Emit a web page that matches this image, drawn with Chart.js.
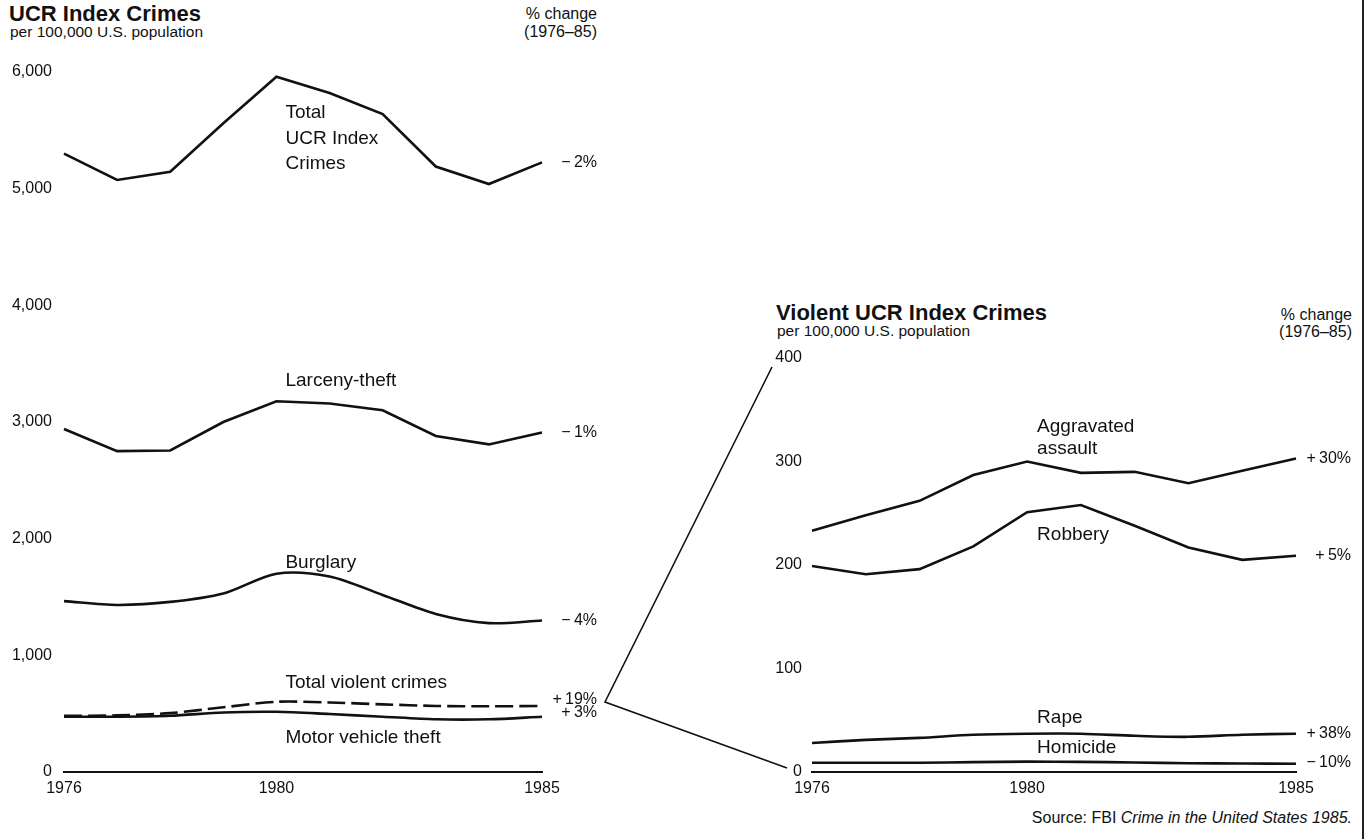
<!DOCTYPE html>
<html>
<head>
<meta charset="utf-8">
<script src="https://cdn.jsdelivr.net/npm/chart.js@4.4.1/dist/chart.umd.min.js"></script>
<style>
  body { margin: 0; background: #fff; width: 1366px; height: 839px; overflow: hidden; position: relative;
         font-family: "Liberation Sans", Arial, sans-serif; color: #111; }
  .txt { position: absolute; white-space: nowrap; }
  .title { font-weight: bold; font-size: 22px; line-height: 22px; }
  .sub { font-size: 15.5px; line-height: 18px; }
  .pc { font-size: 16px; line-height: 18px; }
  .r { text-align: right; }
  canvas { position: absolute; top: 0; }
</style>
</head>
<body>
<div class="txt title" style="left:9px;top:3px">UCR Index Crimes</div>
<div class="txt sub" style="left:10px;top:23px">per 100,000 U.S. population</div>
<div class="txt pc r" style="right:769px;top:5px">% change</div>
<div class="txt pc r" style="right:769px;top:23px">(1976–85)</div>

<div class="txt title" style="left:776px;top:302px">Violent UCR Index Crimes</div>
<div class="txt sub" style="left:777px;top:322px">per 100,000 U.S. population</div>
<div class="txt pc r" style="right:14px;top:306px">% change</div>
<div class="txt pc r" style="right:14px;top:323px">(1976–85)</div>

<div class="txt pc r" style="right:14px;top:809px">Source: FBI <i>Crime in the United States 1985.</i></div>

<canvas id="leftChart" width="610" height="800" style="left:0"></canvas>
<canvas id="rightChart" width="626" height="800" style="left:740px"></canvas>
<canvas id="links" width="1366" height="839" style="left:0;pointer-events:none"></canvas>
<div style="position:absolute;left:1362px;top:0;width:2px;height:839px;background:#222"></div>

<script>
// years on both charts
var years = [1976, 1977, 1978, 1979, 1980, 1981, 1982, 1983, 1984, 1985];
var yearTicks = [1976, 1980, 1985];

// left chart, rates per 100,000
var totalIndex   = [5300, 5075, 5145, 5560, 5960, 5820, 5640, 5190, 5040, 5225];
var larceny      = [2940, 2750, 2756, 3000, 3178, 3158, 3100, 2880, 2808, 2910];
var burglary     = [1465, 1432, 1458, 1530, 1700, 1676, 1518, 1355, 1276, 1298];
var violentTotal = [482, 485, 505, 555, 602, 596, 580, 566, 563, 566];
var motorVehicle = [474, 474, 482, 510, 516, 497, 474, 452, 452, 474];

// right chart, violent crimes per 100,000
var aggAssault = [233, 248, 262, 287, 300, 289, 290, 279, 291, 303];
var robbery    = [199, 191, 196, 218, 251, 258, 238, 217, 205, 209];
var rape       = [28, 31, 33, 36, 37, 37, 35, 34, 36, 37];
var homicide   = [9, 9, 9, 9.5, 10, 9.8, 9.2, 8.5, 8.2, 8];

var leftPct  = ['\u2212\u20092%', '\u2212\u20091%', '\u2212\u20094%', '+\u200919%', '+\u20093%'];
var rightPct = ['+\u200930%', '+\u20095%', '+\u200938%', '\u2212\u200910%'];

var ink = '#111';
var fontFam = '"Liberation Sans", Arial, sans-serif';
Chart.defaults.font.family = fontFam;
Chart.defaults.color = ink;

function line(data, opts) {
  return Object.assign({
    data: data, borderColor: ink, borderWidth: 2.6, pointRadius: 0, tension: 0, fill: false
  }, opts || {});
}

// series names sit in data space next to the 1980 point, % change at the right end
var labelPlugin = {
  id: 'seriesLabels',
  afterDatasetsDraw: function (chart) {
    var o = chart.options.plugins.seriesLabels;
    var ctx = chart.ctx, xs = chart.scales.x, ys = chart.scales.y;
    ctx.save();
    ctx.fillStyle = ink;
    ctx.textBaseline = 'middle';
    ctx.font = '19px ' + fontFam;
    ctx.textAlign = 'left';
    o.names.forEach(function (n) {
      var x = xs.getPixelForValue(years.indexOf(n.year)) + o.dx;
      var lines = n.text.split('\n');
      var y0 = ys.getPixelForValue(n.value) - (lines.length - 1) * o.lh / 2;
      lines.forEach(function (t, i) { ctx.fillText(t, x, y0 + i * o.lh); });
    });
    ctx.font = '16px ' + fontFam;
    ctx.textAlign = 'right';
    chart.data.datasets.forEach(function (ds) {
      if (!ds.pct) return;
      var last = ds.data[ds.data.length - 1];
      ctx.fillText(ds.pct, chart.chartArea.right + 55, ys.getPixelForValue(last) + (ds.pctShift || 0));
    });
    ctx.restore();
  }
};

function axes(max, step, fmt, yWidth, yPad) {
  return {
    x: {
      type: 'category',
      offset: false,
      grid: { display: true, drawOnChartArea: false, drawTicks: false, color: 'rgba(0,0,0,0)' },
      border: { display: true, color: ink, width: 2, dash: [44, 3] },
      ticks: {
        autoSkip: false, maxRotation: 0, padding: 7,
        font: { size: 16 },
        callback: function (v) { var y = years[v]; return yearTicks.indexOf(y) >= 0 ? String(y) : ''; }
      },
      afterFit: function (s) { s.height = 28; }
    },
    y: {
      min: 0, max: max,
      grid: { display: false },
      border: { display: false },
      ticks: { stepSize: step, padding: yPad, font: { size: 16 }, callback: fmt },
      afterFit: function (s) { s.width = yWidth; }
    }
  };
}

var common = { responsive: false, animation: false, events: [] };

var leftChart = new Chart(document.getElementById('leftChart'), {
  type: 'line',
  data: {
    labels: years,
    datasets: [
      line(totalIndex, { pct: leftPct[0] }),
      line(larceny, { pct: leftPct[1] }),
      line(burglary, { pct: leftPct[2], tension: 0.3 }),
      line(violentTotal, { pct: leftPct[3], pctShift: -6, borderDash: [18, 6], tension: 0.3 }),
      line(motorVehicle, { pct: leftPct[4], pctShift: -4, tension: 0.3 })
    ]
  },
  options: Object.assign({}, common, {
    layout: { padding: { top: 72, right: 68, left: 0, bottom: 0 } },
    scales: axes(6000, 1000, function (v) { return v.toLocaleString('en-US'); }, 64, 4),
    plugins: {
      legend: { display: false }, tooltip: { enabled: false },
      seriesLabels: {
        dx: 9, lh: 25.5,
        names: [
          { text: 'Total\nUCR Index\nCrimes', year: 1980, value: 5430 },
          { text: 'Larceny-theft', year: 1980, value: 3355 },
          { text: 'Burglary', year: 1980, value: 1790 },
          { text: 'Total violent crimes', year: 1980, value: 765 },
          { text: 'Motor vehicle theft', year: 1980, value: 291 }
        ]
      }
    }
  }),
  plugins: [labelPlugin]
});

var rightChart = new Chart(document.getElementById('rightChart'), {
  type: 'line',
  data: {
    labels: years,
    datasets: [
      line(aggAssault, { pct: rightPct[0] }),
      line(robbery, { pct: rightPct[1] }),
      line(rape, { pct: rightPct[2], tension: 0.3 }),
      line(homicide, { pct: rightPct[3], pctShift: -1, tension: 0.3 })
    ]
  },
  options: Object.assign({}, common, {
    layout: { padding: { top: 358, right: 70, left: 0, bottom: 0 } },
    scales: axes(400, 100, function (v) { return String(v); }, 72, 2),
    plugins: {
      legend: { display: false }, tooltip: { enabled: false },
      seriesLabels: {
        dx: 10, lh: 22,
        names: [
          { text: 'Aggravated\nassault', year: 1980, value: 323 },
          { text: 'Robbery', year: 1980, value: 229 },
          { text: 'Rape', year: 1980, value: 52 },
          { text: 'Homicide', year: 1980, value: 23 }
        ]
      }
    }
  }),
  plugins: [labelPlugin]
});

// the two lines that tie the violent-crime band to the enlarged chart
(function () {
  var ctx = document.getElementById('links').getContext('2d');
  var rOff = 740;
  var vx = leftChart.chartArea.right + 63;
  var vy = leftChart.scales.y.getPixelForValue(600);
  var ra = rightChart.chartArea;
  var ry = rightChart.scales.y;
  ctx.strokeStyle = ink;
  ctx.lineWidth = 1.6;
  ctx.beginPath();
  ctx.moveTo(rOff + ra.left - 40, ry.getPixelForValue(400) + 9);
  ctx.lineTo(vx, vy);
  ctx.lineTo(rOff + ra.left - 25, ry.getPixelForValue(0) - 4);
  ctx.stroke();
})();
</script>
</body>
</html>
